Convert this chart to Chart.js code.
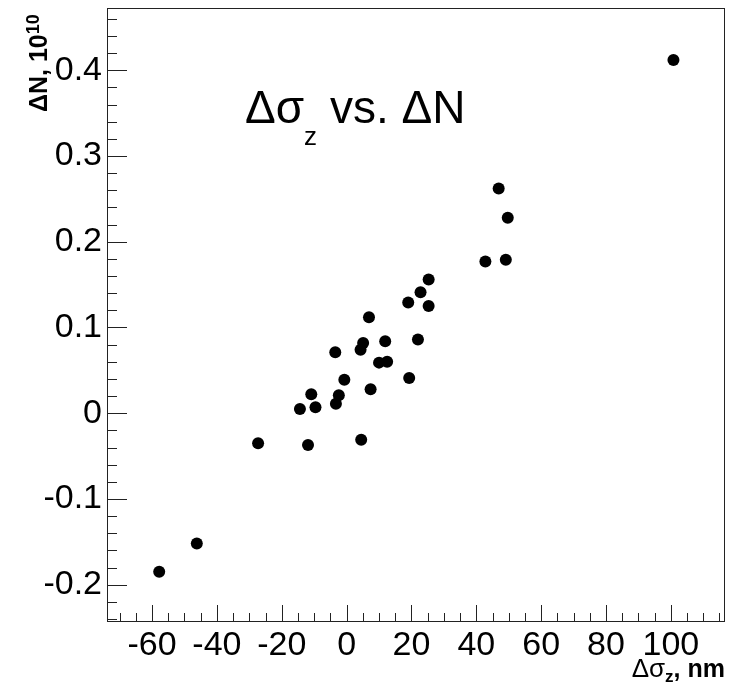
<!DOCTYPE html>
<html>
<head>
<meta charset="utf-8">
<script src="https://cdn.jsdelivr.net/npm/chart.js@4/dist/chart.umd.min.js"></script>
<style>
  html, body { margin: 0; padding: 0; background: #fff; }
</style>
</head>
<body>
<canvas id="chart" width="735" height="687"></canvas>
<script>
"use strict";

// delta sigma_z (nm) vs delta N (1e10)
const dSigmaZ = [100.8, 46.9, 49.7, 42.8, 49.1, 25.3, 22.8, 19.0, 25.3, 6.9,
                 5.1, 11.9, 22.0, -3.5, 4.3, 10.0, 12.5, -0.7, 19.3, 7.4,
                 -10.9, -2.4, -14.4, -9.6, -3.3, -27.3, -11.9, 4.5, -57.8, -46.2];
const dN = [0.412, 0.262, 0.228, 0.177, 0.179, 0.156, 0.141, 0.129, 0.125, 0.112,
            0.082, 0.084, 0.086, 0.071, 0.074, 0.059, 0.060, 0.039, 0.041, 0.028,
            0.022, 0.021, 0.005, 0.007, 0.011, -0.035, -0.037, -0.031, -0.185, -0.152];

const xTicks = [-60, -40, -20, 0, 20, 40, 60, 80, 100];
const yTicks = [-0.2, -0.1, 0, 0.1, 0.2, 0.3, 0.4];
const xRange = [-73.9, 116.7];
const yRange = [-0.2435, 0.4726];

const FONT = "'Liberation Sans', Arial, Helvetica, sans-serif";
const INK = "#000";
const FRAME = "#222";

function drawRuns(ctx, x, y, runs) {
    let cx = x;
    runs.forEach(function (r) {
        ctx.font = r.font;
        ctx.fillText(r.text, cx, y + (r.dy || 0));
        cx += ctx.measureText(r.text).width;
    });
    return cx - x;
}

function runsWidth(ctx, runs) {
    let w = 0;
    runs.forEach(function (r) { ctx.font = r.font; w += ctx.measureText(r.text).width; });
    return w;
}

// ROOT-like frame with inward major/minor ticks plus titles
const rootFrame = {
    id: "rootFrame",
    afterDraw(chart) {
        const ctx = chart.ctx;
        const a = chart.chartArea;
        const sx = chart.scales.x, sy = chart.scales.y;
        ctx.save();
        ctx.strokeStyle = FRAME;
        ctx.lineWidth = 1;
        ctx.strokeRect(Math.round(a.left) + 0.5, Math.round(a.top) + 0.5,
                       Math.round(a.right - a.left) - 1, Math.round(a.bottom - a.top) - 1);

        ctx.beginPath();
        // x ticks every 5, major every 20
        for (let v = -70; v <= xRange[1]; v += 5) {
            const px = Math.round(sx.getPixelForValue(v)) + 0.5;
            const len = (v % 20 === 0) ? 17 : 9;
            ctx.moveTo(px, a.bottom);
            ctx.lineTo(px, a.bottom - len);
        }
        // y ticks every 0.02, major every 0.1
        for (let k = -12; k <= 23; k++) {
            const v = k * 0.02;
            if (v < yRange[0] || v > yRange[1]) continue;
            const py = Math.round(sy.getPixelForValue(v)) + 0.5;
            const len = (k % 5 === 0) ? 20 : 10;
            ctx.moveTo(a.left, py);
            ctx.lineTo(a.left + len, py);
        }
        ctx.stroke();

        ctx.fillStyle = INK;
        ctx.textBaseline = "alphabetic";
        ctx.textAlign = "left";

        // plot title
        drawRuns(ctx, 245, 123, [
            { text: "\u0394\u03c3", font: "46px " + FONT },
            { text: "z", font: "26px " + FONT, dy: 22 },
            { text: " vs. \u0394N", font: "46px " + FONT }
        ]);

        // x axis title, right aligned to the frame
        const xt = [
            { text: "\u0394\u03c3", font: "26px " + FONT },
            { text: "z", font: "bold 17px " + FONT, dy: 5 },
            { text: ", nm", font: "bold 25px " + FONT }
        ];
        drawRuns(ctx, 725 - runsWidth(ctx, xt), 677, xt);

        // y axis title, rotated
        ctx.translate(47, 112);
        ctx.rotate(-Math.PI / 2);
        drawRuns(ctx, 0, 0, [
            { text: "\u0394N, 10", font: "bold 25px " + FONT },
            { text: "10", font: "bold 18px " + FONT, dy: -8 }
        ]);
        ctx.restore();
    }
};

const ctx = document.getElementById("chart").getContext("2d");
new Chart(ctx, {
    type: "scatter",
    data: {
        datasets: [{
            data: dSigmaZ.map(function (x, i) { return { x: x, y: dN[i] }; }),
            pointRadius: 6,
            pointHoverRadius: 6,
            backgroundColor: INK,
            borderWidth: 0
        }]
    },
    options: {
        responsive: false,
        animation: false,
        layout: { padding: { top: 8, right: 10, left: 0, bottom: 0 } },
        plugins: { legend: { display: false }, tooltip: { enabled: false } },
        scales: {
            x: {
                type: "linear",
                min: xRange[0], max: xRange[1],
                afterBuildTicks: function (s) { s.ticks = xTicks.map(function (v) { return { value: v }; }); },
                afterFit: function (s) { s.height = 65; s.paddingLeft = 0; s.paddingRight = 0; },
                grid: { display: false, drawTicks: false },
                border: { display: false },
                ticks: {
                    padding: 3, autoSkip: false, maxRotation: 0, color: INK,
                    font: { family: FONT, size: 34 },
                    callback: function (v) { return String(v); }
                }
            },
            y: {
                type: "linear",
                min: yRange[0], max: yRange[1],
                afterBuildTicks: function (s) { s.ticks = yTicks.map(function (v) { return { value: v }; }); },
                afterFit: function (s) { s.width = 107; s.paddingTop = 0; s.paddingBottom = 0; },
                grid: { display: false, drawTicks: false },
                border: { display: false },
                ticks: {
                    padding: 5, autoSkip: false, color: INK,
                    font: { family: FONT, size: 34 },
                    callback: function (v) { return v === 0 ? "0" : v.toFixed(1); }
                }
            }
        }
    },
    plugins: [rootFrame]
});
</script>
</body>
</html>
